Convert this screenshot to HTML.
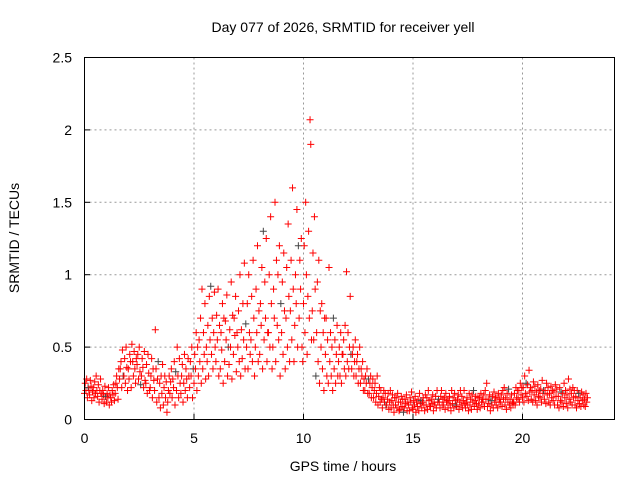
<!DOCTYPE html>
<html><head><meta charset="utf-8"><style>
body{margin:0;background:#fff}
svg text{font-family:"Liberation Sans",sans-serif;font-size:14px;fill:#000}
</style></head><body>
<svg id="chart" width="640" height="480" xmlns="http://www.w3.org/2000/svg">
<rect width="640" height="480" fill="#fff"/>
<g id="grid"></g>
<g id="pts"></g>
<rect x="84.5" y="57.5" width="530" height="362" fill="none" stroke="#000"/>
<g id="axes"></g>
<text x="343" y="32" text-anchor="middle">Day 077 of 2026, SRMTID for receiver yell</text>
<text x="343" y="471" text-anchor="middle">GPS time / hours</text>
<text transform="translate(19,238) rotate(-90)" text-anchor="middle">SRMTID / TECUs</text>
</svg>
<script>
const xTicks=[0,5,10,15,20];
const yTicks=[0,0.5,1,1.5,2,2.5];
const yTickLabels=["0","0.5","1","1.5","2","2.5"];
const times=[];
for(let i=0;i<=114;i++)times.push(+(i*0.2).toFixed(1));
const values=[
[0.18,0.25,0.2,0.28,0.15,0.22],[0.2,0.17,0.27,0.23,0.13,0.19],[0.22,0.15,0.26,0.18,0.3,0.2],[0.16,0.24,0.12,0.2,0.28,0.18],[0.14,0.2,0.17,0.11,0.23,0.16],
[0.12,0.18,0.15,0.22,0.1,0.17],[0.15,0.12,0.2,0.17,0.24,0.13],[0.18,0.25,0.3,0.22,0.14,0.35],[0.28,0.35,0.4,0.22,0.48,0.3],[0.3,0.42,0.25,0.5,0.36,0.2],
[0.35,0.28,0.45,0.4,0.22,0.52],[0.4,0.3,0.47,0.35,0.25,0.42],[0.38,0.45,0.28,0.5,0.33,0.24],[0.3,0.42,0.36,0.22,0.47,0.27],[0.25,0.38,0.18,0.45,0.32,0.2],
[0.22,0.3,0.42,0.15,0.35,0.27],[0.2,0.62,0.35,0.12,0.28,0.4],[0.15,0.25,0.08,0.3,0.18,0.38],[0.1,0.22,0.3,0.15,0.26,0.05],[0.12,0.2,0.3,0.18,0.26,0.35],
[0.15,0.28,0.22,0.4,0.1,0.33],[0.2,0.5,0.3,0.15,0.42,0.25],[0.18,0.3,0.38,0.12,0.25,0.45],[0.2,0.35,0.28,0.15,0.42,0.3],[0.22,0.4,0.3,0.5,0.15,0.35],
[0.25,0.45,0.35,0.6,0.2,0.5],[0.3,0.55,0.4,0.7,0.25,0.9],[0.35,0.6,0.45,0.8,0.28,0.5],[0.4,0.65,0.3,0.85,0.55,0.92],[0.45,0.7,0.35,0.6,0.88,0.5],
[0.4,0.72,0.55,0.9,0.3,0.65],[0.35,0.6,0.48,0.8,0.25,0.7],[0.4,0.68,0.55,0.86,0.3,0.5],[0.38,0.62,0.5,0.95,0.28,0.72],[0.45,0.7,0.58,0.85,0.33,0.6],
[0.5,0.75,0.4,1.0,0.3,0.62],[0.42,0.8,0.55,1.08,0.35,0.66],[0.5,0.8,0.35,1.0,0.6,0.45],[0.55,0.85,0.4,1.1,0.7,0.3],[0.5,0.9,0.6,1.2,0.4,0.75],
[0.45,0.8,0.65,1.05,0.35,1.3],[0.55,0.95,0.7,1.25,0.4,0.6],[0.6,1.0,0.5,1.4,0.8,0.35],[0.5,0.9,0.7,1.5,0.4,1.1],[0.65,1.0,0.55,1.2,0.3,0.8],
[0.6,0.95,0.45,1.15,0.75,0.35],[0.7,1.05,0.5,1.35,0.85,0.4],[0.75,1.1,0.55,1.6,0.9,0.4],[0.65,1.0,0.8,1.45,0.5,1.2],[0.7,1.1,0.9,1.25,0.5,0.4],
[0.8,1.2,0.6,1.5,1.0,0.45],[0.85,1.3,0.7,2.07,1.9,0.55],[0.75,1.15,0.55,1.4,0.9,0.3],[0.6,0.95,0.4,1.1,0.25,0.75],[0.5,0.8,0.35,0.6,0.2,0.7],
[0.45,0.7,0.3,0.55,0.25,1.05],[0.4,0.6,0.3,0.5,0.2,0.7],[0.35,0.55,0.25,0.45,0.65,0.3],[0.4,0.5,0.3,0.6,0.25,0.45],[0.45,0.55,0.35,0.65,0.3,1.02],
[0.4,0.6,0.35,0.5,0.85,0.45],[0.35,0.45,0.5,0.3,0.4,0.55],[0.3,0.4,0.45,0.25,0.35,0.5],[0.25,0.35,0.3,0.4,0.2,0.28],[0.2,0.3,0.25,0.35,0.18,0.28],
[0.18,0.25,0.3,0.15,0.22,0.28],[0.15,0.2,0.25,0.12,0.18,0.3],[0.1,0.16,0.22,0.12,0.2,0.14],[0.08,0.15,0.2,0.12,0.18,0.1],[0.1,0.14,0.18,0.07,0.12,0.2],
[0.08,0.13,0.17,0.1,0.05,0.15],[0.1,0.15,0.08,0.18,0.12,0.06],[0.07,0.12,0.16,0.09,0.14,0.05],[0.08,0.14,0.11,0.17,0.06,0.12],[0.1,0.06,0.15,0.12,0.19,0.08],
[0.07,0.13,0.1,0.16,0.05,0.12],[0.09,0.14,0.06,0.18,0.11,0.13],[0.08,0.12,0.15,0.1,0.06,0.17],[0.1,0.15,0.07,0.2,0.13,0.09],[0.09,0.14,0.11,0.17,0.06,0.12],
[0.1,0.16,0.08,0.2,0.12,0.14],[0.12,0.08,0.16,0.2,0.1,0.14],[0.1,0.15,0.07,0.18,0.12,0.13],[0.08,0.13,0.16,0.1,0.06,0.2],[0.11,0.15,0.08,0.18,0.13,0.1],
[0.09,0.14,0.17,0.07,0.12,0.2],[0.1,0.16,0.08,0.13,0.2,0.11],[0.08,0.12,0.15,0.1,0.06,0.18],[0.1,0.14,0.07,0.17,0.12,0.2],[0.09,0.13,0.16,0.11,0.07,0.15],
[0.1,0.15,0.08,0.18,0.12,0.14],[0.12,0.17,0.09,0.2,0.14,0.25],[0.09,0.14,0.11,0.17,0.06,0.13],[0.1,0.16,0.08,0.19,0.12,0.15],[0.1,0.15,0.08,0.18,0.12,0.14],
[0.12,0.17,0.09,0.2,0.14,0.22],[0.1,0.15,0.07,0.18,0.12,0.21],[0.1,0.14,0.08,0.17,0.12,0.11],[0.12,0.18,0.1,0.22,0.15,0.2],[0.14,0.2,0.12,0.25,0.17,0.22],
[0.15,0.22,0.12,0.3,0.18,0.25],[0.16,0.24,0.13,0.34,0.19,0.22],[0.14,0.2,0.12,0.26,0.17,0.23],[0.13,0.19,0.1,0.24,0.16,0.2],[0.15,0.21,0.12,0.27,0.18,0.2],
[0.14,0.2,0.11,0.25,0.17,0.22],[0.12,0.18,0.1,0.23,0.15,0.2],[0.13,0.19,0.1,0.24,0.16,0.21],[0.1,0.16,0.08,0.22,0.13,0.19],[0.12,0.18,0.09,0.25,0.15,0.2],
[0.11,0.17,0.08,0.28,0.14,0.21],[0.12,0.18,0.1,0.22,0.15,0.2],[0.1,0.16,0.08,0.2,0.13,0.18],[0.11,0.15,0.09,0.19,0.13,0.17],[0.1,0.14,0.09,0.18,0.12,0.15]
];
const X0=84.5,PX=21.9,Y0=419.5,PY=144.8;
const xs=t=>X0+t*PX, ys=v=>Y0-v*PY;
const NS="http://www.w3.org/2000/svg";
const grid=document.getElementById('grid'),axes=document.getElementById('axes'),pts=document.getElementById('pts');
function mk(tag,attrs,parent){const e=document.createElementNS(NS,tag);for(const k in attrs)e.setAttribute(k,attrs[k]);parent.appendChild(e);return e;}
xTicks.forEach(t=>{const x=xs(t);
 if(t>0){const g=mk('line',{x1:x,x2:x,y1:57.5,y2:419.5,stroke:'#999','stroke-dasharray':'2,3'},grid);
 
 }
 const tk=mk('line',{x1:x,x2:x,y1:419.5,y2:414,stroke:'#000'},axes);
 
 
 const l=mk('text',{x:x,y:443,'text-anchor':'middle'},axes);l.textContent=t;
 
 
});
yTicks.forEach((v,i)=>{const y=ys(v);
 if(v>0&&v<2.5){const g=mk('line',{x1:84.5,x2:614.5,y1:y,y2:y,stroke:'#999','stroke-dasharray':'2,3'},grid);
 
 }
 const tk=mk('line',{x1:84.5,x2:90,y1:y,y2:y,stroke:'#000'},axes);
 
 
 const l=mk('text',{x:72,y:y+5,'text-anchor':'end'},axes);l.textContent=yTickLabels[i];
 
 
});
times.forEach((t,i)=>{values[i].forEach((v,j)=>{
 const x=xs(t+j*0.033),y=ys(v);
 const col=(j===5&&i%4===0)?'#444':'#f00';
 const p=mk('path',{d:`M${x-3.5},${y}h7M${x},${y-3.5}v7`,stroke:col,'stroke-width':1,fill:'none'},pts);
 
 
});});
</script>
</body></html>
